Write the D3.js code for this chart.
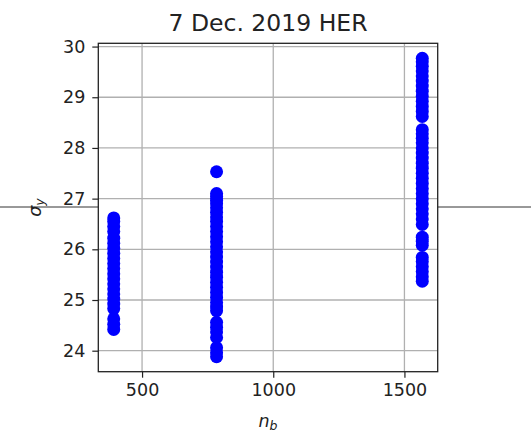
<!DOCTYPE html>
<html>
<head>
<meta charset="utf-8">
<script src="https://cdn.jsdelivr.net/npm/d3@7"></script>
<style>
  html, body { margin: 0; padding: 0; background: #fff; }
  svg { display: block; font-family: "DejaVu Sans", sans-serif; }
</style>
</head>
<body>
<svg id="chart" width="531" height="432"></svg>
<script>
// Bunch counts (n_b) of each measurement group
const bunchCounts = [392, 784, 1568];

// Vertical beam size sigma_y measured at each bunch count
const sigmaY392 = [26.62, 26.55, 26.45, 26.35, 26.22, 26.12, 26.02, 25.92, 25.82, 25.72,
  25.62, 25.52, 25.42, 25.32, 25.22, 25.12, 25.02, 24.92, 24.83, 24.63, 24.52, 24.42];
const sigmaY784 = [27.53, 27.10, 27.04, 26.97, 26.90, 26.82, 26.73, 26.64, 26.55, 26.45,
  26.35, 26.25, 26.15, 26.05, 25.95, 25.85, 25.75, 25.65, 25.55, 25.45, 25.35, 25.25,
  25.15, 25.05, 24.95, 24.86, 24.79, 24.56, 24.46, 24.37, 24.26, 24.06, 23.96, 23.88];
const sigmaY1568 = [29.77, 29.70, 29.61, 29.52, 29.42, 29.32, 29.22, 29.12, 29.02, 28.92,
  28.82, 28.72, 28.62, 28.36, 28.28, 28.19, 28.10, 28.00, 27.90, 27.80, 27.70, 27.60,
  27.50, 27.40, 27.30, 27.20, 27.10, 27.00, 26.90, 26.80, 26.70, 26.60, 26.49, 26.24,
  26.16, 26.08, 25.84, 25.76, 25.66, 25.56, 25.46, 25.37];

const xTicks = [500, 1000, 1500];
const yTicks = [24, 25, 26, 27, 28, 29, 30];
const titleText = "7 Dec. 2019 HER";

const points = [];
[sigmaY392, sigmaY784, sigmaY1568].forEach((ys, i) => {
  ys.forEach(y => points.push({ x: bunchCounts[i], y }));
});

const W = 531, H = 432;
const frame = { left: 98.3, right: 437.7, top: 43.3, bottom: 371.7 };

// Autoscale with a 5% margin on each side
function padded(ext) {
  const r = ext[1] - ext[0];
  return [ext[0] - 0.05 * r, ext[1] + 0.05 * r];
}
const x = d3.scaleLinear()
  .domain(padded(d3.extent(points, d => d.x)))
  .range([frame.left, frame.right]);
const y = d3.scaleLinear()
  .domain(padded(d3.extent(points, d => d.y)))
  .range([frame.bottom, frame.top]);

const svg = d3.select("#chart");
svg.append("rect").attr("width", W).attr("height", H).attr("fill", "#fff");

// Figure-wide horizontal rule, sitting behind the axes
const midY = (frame.top + frame.bottom) / 2;
svg.append("line")
  .attr("x1", 0).attr("x2", W)
  .attr("y1", midY - 0.5).attr("y2", midY - 0.5)
  .attr("stroke", "#333").attr("stroke-width", 1);

// Axes background
svg.append("rect")
  .attr("x", frame.left).attr("y", frame.top)
  .attr("width", frame.right - frame.left).attr("height", frame.bottom - frame.top)
  .attr("fill", "#fff");

// Grid
const grid = svg.append("g").attr("stroke", "#b0b0b0").attr("stroke-width", 1.3);
grid.selectAll("line.gx").data(xTicks).join("line")
  .attr("x1", d => x(d)).attr("x2", d => x(d))
  .attr("y1", frame.top).attr("y2", frame.bottom);
grid.selectAll("line.gy").data(yTicks).join("line")
  .attr("x1", frame.left).attr("x2", frame.right)
  .attr("y1", d => y(d)).attr("y2", d => y(d));

// Points
const clipId = "plot-clip";
svg.append("clipPath").attr("id", clipId).append("rect")
  .attr("x", frame.left).attr("y", frame.top)
  .attr("width", frame.right - frame.left).attr("height", frame.bottom - frame.top);
svg.append("g").attr("clip-path", `url(#${clipId})`)
  .selectAll("circle").data(points).join("circle")
  .attr("cx", d => x(d.x)).attr("cy", d => y(d.y))
  .attr("r", 6.5).attr("fill", "#0000ff");

// Axes
const xAxis = d3.axisBottom(x).tickValues(xTicks).tickSize(6).tickPadding(6).tickFormat(d3.format("d"));
const yAxis = d3.axisLeft(y).tickValues(yTicks).tickSize(6).tickPadding(7).tickFormat(d3.format("d"));

const gx = svg.append("g").attr("transform", `translate(0,${frame.bottom})`).call(xAxis);
const gy = svg.append("g").attr("transform", `translate(${frame.left},0)`).call(yAxis);
[gx, gy].forEach(g => {
  g.select(".domain").remove();
  g.selectAll(".tick line").attr("stroke", "#222").attr("stroke-width", 1.2);
  g.selectAll(".tick text").attr("fill", "#222").attr("font-size", 17.5)
    .attr("font-family", "DejaVu Sans, sans-serif");
});

// Frame
svg.append("rect")
  .attr("x", frame.left).attr("y", frame.top)
  .attr("width", frame.right - frame.left).attr("height", frame.bottom - frame.top)
  .attr("fill", "none").attr("stroke", "#222").attr("stroke-width", 1.3);

// Title
svg.append("text")
  .attr("x", (frame.left + frame.right) / 2).attr("y", 31)
  .attr("text-anchor", "middle").attr("font-size", 23.5).attr("fill", "#222")
  .text(titleText);

// X label n_b
const xl = svg.append("text")
  .attr("x", (frame.left + frame.right) / 2).attr("y", 427)
  .attr("text-anchor", "middle").attr("font-size", 17.5).attr("fill", "#222")
  .attr("font-style", "italic");
xl.append("tspan").text("n");
xl.append("tspan").attr("font-size", 12.5).attr("dy", 3).text("b");

// Y label sigma_y
const yl = svg.append("text")
  .attr("transform", `translate(41,${midY}) rotate(-90)`)
  .attr("text-anchor", "middle").attr("font-size", 17.5).attr("fill", "#222")
  .attr("font-style", "italic");
yl.append("tspan").text("σ");
yl.append("tspan").attr("font-size", 12.5).attr("dy", 3).text("y");
</script>
</body>
</html>
